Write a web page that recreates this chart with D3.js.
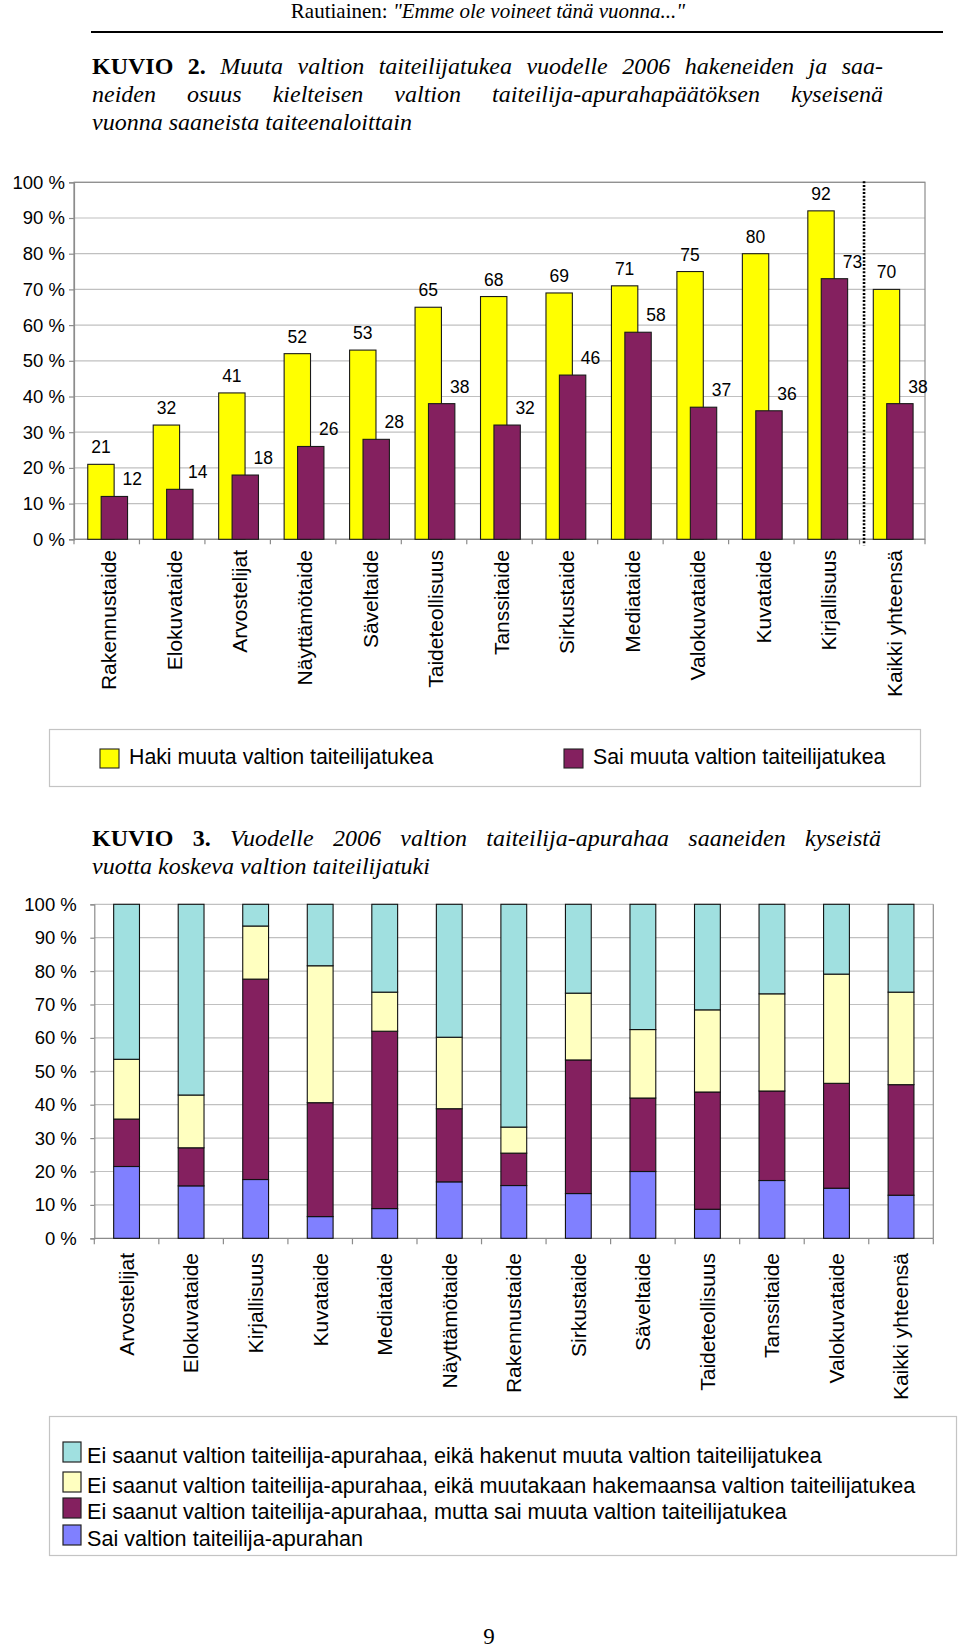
<!DOCTYPE html>
<html><head><meta charset="utf-8">
<script src="https://cdn.jsdelivr.net/npm/d3@7"></script>
<style>body{margin:0;background:#fff} svg{display:block}</style>
</head><body>
<svg id="c" width="960" height="1648"></svg>
<script>
// ---------- DATA ----------
const categories1 = ["Rakennustaide","Elokuvataide","Arvostelijat","Näyttämötaide","Säveltaide","Taideteollisuus","Tanssitaide","Sirkustaide","Mediataide","Valokuvataide","Kuvataide","Kirjallisuus","Kaikki yhteensä"];
const haki = [21,32,41,52,53,65,68,69,71,75,80,92,70];
const sai  = [12,14,18,26,28,38,32,46,58,37,36,73,38];
const series1Names = ["Haki muuta valtion taiteilijatukea","Sai muuta valtion taiteilijatukea"];
const yTicks = [0,10,20,30,40,50,60,70,80,90,100];

const categories2 = ["Arvostelijat","Elokuvataide","Kirjallisuus","Kuvataide","Mediataide","Näyttämötaide","Rakennustaide","Sirkustaide","Säveltaide","Taideteollisuus","Tanssitaide","Valokuvataide","Kaikki yhteensä"];
const saiApuraha  = [21.5,15.7,17.6,6.5,8.9,16.9,15.8,13.4,20.0,8.7,17.3,15.0,12.9];
const saiMuuta    = [14.2,11.4,60.0,34.1,53.1,21.9,9.7,40.0,22.0,35.1,26.8,31.4,33.1];
const eiMuutakaan = [17.9,15.8,15.9,41.0,11.7,21.4,7.8,20.0,20.5,24.6,29.1,32.7,27.7];
const eiHakenut   = [46.4,57.1,6.5,18.4,26.3,39.8,66.7,26.6,37.5,31.6,26.8,20.9,26.3];
const series2Names = [
  "Ei saanut valtion taiteilija-apurahaa, eikä hakenut muuta valtion taiteilijatukea",
  "Ei saanut valtion taiteilija-apurahaa, eikä muutakaan hakemaansa valtion taiteilijatukea",
  "Ei saanut valtion taiteilija-apurahaa, mutta sai muuta valtion taiteilijatukea",
  "Sai valtion taiteilija-apurahan"
];

const headerText = ["Rautiainen: ", "\"Emme ole voineet tänä vuonna...\""];
const title1 = [
  [{t:"KUVIO 2.", b:true},{t:" Muuta valtion taiteilijatukea vuodelle 2006 hakeneiden ja saa-", i:true}],
  [{t:"neiden osuus kielteisen valtion taiteilija-apurahapäätöksen kyseisenä", i:true}],
  [{t:"vuonna saaneista taiteenaloittain", i:true}]
];
const title2 = [
  [{t:"KUVIO 3.", b:true},{t:" Vuodelle 2006 valtion taiteilija-apurahaa saaneiden kyseistä", i:true}],
  [{t:"vuotta koskeva valtion taiteilijatuki", i:true}]
];

// ---------- STYLE ----------
const SANS = "Liberation Sans, Arial, sans-serif";
const SERIF = "Liberation Serif, Times New Roman, serif";
const YELLOW = "#ffff00", PLUM = "#84205f", BLUE = "#8080ff", IVORY = "#ffffc0", CYAN = "#a0e0e0";
const GRID = "#c0c0c0", AXIS = "#8c8c8c";

const svg = d3.select("#c");

// ---------- Header ----------
const hdr = svg.append("text").attr("x",488).attr("y",18).attr("text-anchor","middle")
  .style("font-family",SERIF).style("font-size","21px");
hdr.append("tspan").text(headerText[0]);
hdr.append("tspan").style("font-style","italic").text(headerText[1]);
svg.append("line").attr("x1",91).attr("x2",943).attr("y1",32).attr("y2",32)
  .attr("stroke","#000").attr("stroke-width",2);

function titleBlock(lines, x0, x1, y0, lh, justifyCount){
  lines.forEach((parts,li)=>{
    const t = svg.append("text").attr("x",x0).attr("y",y0+li*lh)
      .style("font-family",SERIF).style("font-size","24px").style("white-space","pre");
    parts.forEach(p=>{
      const s = t.append("tspan").text(p.t);
      if(p.b) s.style("font-weight","bold");
      if(p.i) s.style("font-style","italic");
    });
    if(li < justifyCount){
      const natural = t.node().getComputedTextLength();
      const nSp = parts.map(p=>p.t).join("").split(" ").length-1;
      const ws = (x1-x0-natural)/nSp;
      t.style("word-spacing", ws+"px");
    }
  });
}
titleBlock(title1, 92, 883, 74, 28, 2);
titleBlock(title2, 92, 881, 846, 28, 1);

// ---------- Chart 1 ----------
const x1 = d3.scaleBand().domain(categories1).range([74,925]);
const y1 = d3.scaleLinear().domain([0,100]).range([539.3,182.3]);
const bw1 = x1.bandwidth();
const c1 = svg.append("g");

c1.selectAll("line.grid").data(yTicks.slice(1)).join("line")
  .attr("x1",74).attr("x2",925).attr("y1",d=>y1(d)).attr("y2",d=>y1(d))
  .attr("stroke",GRID).attr("stroke-width",1.2);
c1.append("rect").attr("x",74).attr("y",y1(100)).attr("width",851).attr("height",y1(0)-y1(100))
  .attr("fill","none").attr("stroke",AXIS).attr("stroke-width",1.2);

const ax1 = c1.append("g").attr("transform","translate(74,0)")
  .call(d3.axisLeft(y1).tickValues(yTicks).tickSize(5).tickPadding(4).tickFormat(d=>d+" %"));
ax1.selectAll("path,line").attr("stroke",AXIS).attr("stroke-width",1.2);
ax1.selectAll("text").style("font-family",SANS).style("font-size","18.5px").attr("fill","#000");

// bottom axis line + boundary ticks
c1.append("line").attr("x1",74).attr("x2",925).attr("y1",y1(0)).attr("y2",y1(0)).attr("stroke",AXIS).attr("stroke-width",1.2);
c1.selectAll("line.bt").data(d3.range(categories1.length+1)).join("line")
  .attr("x1",i=>x1.range()[0]+i*x1.step()).attr("x2",i=>x1.range()[0]+i*x1.step())
  .attr("y1",y1(0)).attr("y2",y1(0)+5).attr("stroke",AXIS).attr("stroke-width",1.2);

// x labels
c1.selectAll("text.xl").data(categories1).join("text")
  .attr("transform",d=>`translate(${x1(d)+bw1/2+2},550) rotate(-90)`)
  .attr("text-anchor","end").attr("dy","0.35em")
  .style("font-family",SANS).style("font-size","21px").text(d=>d);

const bW = bw1*0.403;
const yOff = bw1*0.21, pOff = bw1*0.415;
c1.selectAll("rect.h").data(categories1).join("rect")
  .attr("x",(d)=>x1(d)+yOff).attr("y",(d,i)=>y1(haki[i]))
  .attr("width",bW).attr("height",(d,i)=>y1(0)-y1(haki[i]))
  .attr("fill",YELLOW).attr("stroke","#1a1a1a").attr("stroke-width",1.1);
c1.selectAll("rect.s").data(categories1).join("rect")
  .attr("x",(d)=>x1(d)+pOff).attr("y",(d,i)=>y1(sai[i]))
  .attr("width",bW).attr("height",(d,i)=>y1(0)-y1(sai[i]))
  .attr("fill",PLUM).attr("stroke","#1a1a1a").attr("stroke-width",1.1);

c1.selectAll("text.hl").data(categories1).join("text")
  .attr("x",d=>x1(d)+yOff+bW/2).attr("y",(d,i)=>y1(haki[i])-11)
  .attr("text-anchor","middle").style("font-family",SANS).style("font-size","17.5px")
  .text((d,i)=>haki[i]);
c1.selectAll("text.sl").data(categories1).join("text")
  .attr("x",d=>x1(d)+pOff+bW/2+18).attr("y",(d,i)=>y1(sai[i])-11)
  .attr("text-anchor","middle").style("font-family",SANS).style("font-size","17.5px")
  .text((d,i)=>sai[i]);

// dotted separator before "Kaikki yhteensä"
const sepX = x1(categories1[categories1.length-1]) + 4.5;
c1.append("line").attr("x1",sepX).attr("x2",sepX).attr("y1",y1(100)-1).attr("y2",y1(0)+6)
  .attr("stroke","#000").attr("stroke-width",2.6).attr("stroke-dasharray","2,1.6");

// legend 1
svg.append("rect").attr("x",49.5).attr("y",729.5).attr("width",871).attr("height",57)
  .attr("fill","none").attr("stroke","#c4c4c4").attr("stroke-width",1.2);
const leg1 = [{c:YELLOW,x:100},{c:PLUM,x:564}];
leg1.forEach((l,i)=>{
  svg.append("rect").attr("x",l.x).attr("y",749).attr("width",19).attr("height",19)
    .attr("fill",l.c).attr("stroke","#222").attr("stroke-width",1.1);
  svg.append("text").attr("x",l.x+29).attr("y",764).style("font-family",SANS).style("font-size","21.3px")
    .text(series1Names[i]);
});

// ---------- Chart 2 ----------
const x2 = d3.scaleBand().domain(categories2).range([94.3,933.3]);
const y2 = d3.scaleLinear().domain([0,100]).range([1238.3,904.3]);
const bw2 = x2.bandwidth();
const c2 = svg.append("g");
c2.selectAll("line.grid").data(yTicks.slice(1)).join("line")
  .attr("x1",94.3).attr("x2",933.3).attr("y1",d=>y2(d)).attr("y2",d=>y2(d))
  .attr("stroke",GRID).attr("stroke-width",1.2);
c2.append("line").attr("x1",933.3).attr("x2",933.3).attr("y1",y2(100)).attr("y2",y2(0)).attr("stroke",AXIS).attr("stroke-width",1.2);
const ax2 = c2.append("g").attr("transform","translate(94.3,0)")
  .call(d3.axisLeft(y2).tickValues(yTicks).tickSize(4).tickPadding(13.5).tickFormat(d=>d+" %"));
ax2.selectAll("path,line").attr("stroke",AXIS).attr("stroke-width",1.2);
ax2.selectAll("text").style("font-family",SANS).style("font-size","18.5px").attr("fill","#000");
c2.append("line").attr("x1",94.3).attr("x2",933.3).attr("y1",y2(0)).attr("y2",y2(0)).attr("stroke",AXIS).attr("stroke-width",1.2);
c2.selectAll("line.bt").data(d3.range(categories2.length+1)).join("line")
  .attr("x1",i=>x2.range()[0]+i*x2.step()).attr("x2",i=>x2.range()[0]+i*x2.step())
  .attr("y1",y2(0)).attr("y2",y2(0)+6).attr("stroke",AXIS).attr("stroke-width",1.2);

const rows2 = categories2.map((c,i)=>({cat:c, a:saiApuraha[i], b:saiMuuta[i], c2:eiMuutakaan[i], d:eiHakenut[i]}));
const stack = d3.stack().keys(["a","b","c2","d"])(rows2);
const cols2 = {a:BLUE, b:PLUM, c2:IVORY, d:CYAN};
const bW2 = bw2*0.4;
stack.forEach(layer=>{
  c2.selectAll(null).data(layer).join("rect")
    .attr("x",d=>x2(d.data.cat)+(bw2-bW2)/2).attr("y",d=>y2(d[1]))
    .attr("width",bW2).attr("height",d=>y2(d[0])-y2(d[1]))
    .attr("fill",cols2[layer.key]).attr("stroke","#111").attr("stroke-width",1.1);
});
c2.selectAll("text.xl").data(categories2).join("text")
  .attr("transform",d=>`translate(${x2(d)+bw2/2},1253) rotate(-90)`)
  .attr("text-anchor","end").attr("dy","0.35em")
  .style("font-family",SANS).style("font-size","21px").text(d=>d);

// legend 2
svg.append("rect").attr("x",49.5).attr("y",1416.5).attr("width",907).attr("height",139)
  .attr("fill","none").attr("stroke","#c4c4c4").attr("stroke-width",1.2);
const leg2Cols = [CYAN, IVORY, PLUM, BLUE];
const leg2Base = [1463, 1493, 1519, 1546];
series2Names.forEach((n,i)=>{
  svg.append("rect").attr("x",63).attr("y",leg2Base[i]-21).attr("width",18).attr("height",20)
    .attr("fill",leg2Cols[i]).attr("stroke","#222").attr("stroke-width",1.2);
  svg.append("text").attr("x",87).attr("y",leg2Base[i]).style("font-family",SANS).style("font-size","21.6px").text(n);
});

// page number
svg.append("text").attr("x",489).attr("y",1644).attr("text-anchor","middle")
  .style("font-family",SERIF).style("font-size","23px").text("9");
</script>
</body></html>
